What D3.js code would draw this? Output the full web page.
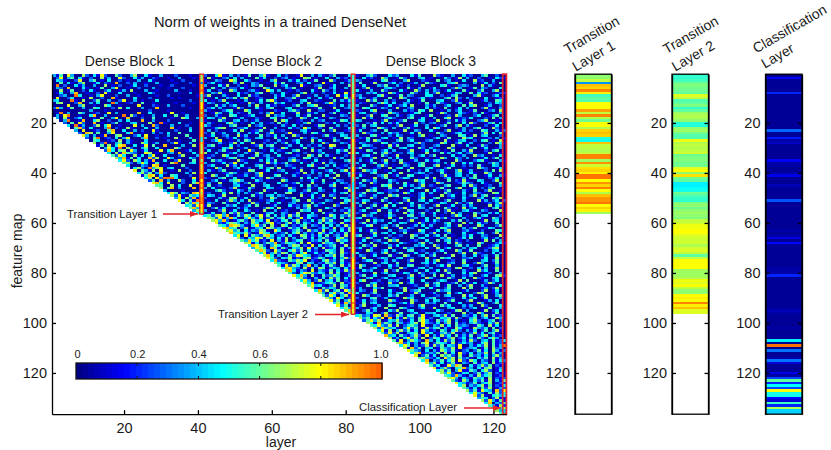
<!DOCTYPE html>
<html><head><meta charset="utf-8">
<script src="https://cdn.jsdelivr.net/npm/d3@7/dist/d3.min.js"></script>
<style>html,body{margin:0;background:#fff}svg{display:block}text{font-family:"Liberation Sans",Arial,sans-serif;fill:#1a1a1a}</style>
</head><body><svg id="c" width="831" height="450"></svg>
<script>
// Colour levels (0-9) per feature map; each row is right-aligned to the last layer of its block.
// These digits are hand-typed approximations of each region's density and brightness, NOT exact per-cell readings.
const block1Rows = [
"3150730062 0417200520 0360041003 0002000100","0270350410 2006130072 0041300210 0100300010","0431002700 3501040020 1003004100 0010020000","0050410360 0140210800 2030010030 0001000200",
"0902004130 0300601020 0140020001 0020000010","0320800041 0015003700 1002000300 0100020000","0060150020 4100240013 0600030010 0003000100","0140038001 0020710040 0010004200 0000100300",
"0023009400 1037000200 3001000010 0200000001","0700240010 6002008100 0040002000 0010100000","3400091060 0250030027 0030100040 0000000200","0560002800 3040009300 1200500100 0001000010",
"0000700360 0100640010 0007000210 0300020000","2830150030 0540002060 4000300080 0000000100","0000000000 3000100000 0000002000 0100000000","0190300530 0120070300 0008004000 0070010000",
"0307900100 4800300009 0620100300 4005003000","306102400 0105003700 8000200500 0010064003","03900180 0460020030 4000800300 0200000000","2050720 0801002500 0340006009 1000400100",
"409130 0260470010 0070300820 0030002000","05820 4000390200 6100040030 0080100300","3070 0120058004 0030200710 0002000400","208 6050037000 4800100302 0400500000",
"73 0301800560 0024070010 0300005000","2 0590120403 7000380020 1006000300","0540012060 3100040000 0200100050","602900350 3100640130 0027100300",
"15060478 0040170500 8000030060","0374190 6200350040 0006300100","284056 0730140007 0480001300","40618 5320076010 0230800040",
"5274 0061403700 4000260003","638 1504008260 0730100420","47 2064031800 4002700050","5 6203740150 0069000340",
"4000320780 1000050000","046209367 0340002000","70531607 0010600200","4625038 2000003060",
"158704 0054000200","46072 9994000070","2508 0300620040","784 0700020058",
"55 0060400700","6 0580300080","3000010000","475032087","62710534","3706281","740519","06385","4527","583","36","4"];
const block2Rows = [
"2004710302 0150036100 4020017003 0310250004","0610023040 3000514002 0230100650 1004003120","1003200750 0420010036 0003140201 5000620013","0240100031 6003200104 1500023040 0071000302",
"3000416002 0103250006 0240007100 2300140005","0051030220 4100006301 0032501000 1600240030","1400200630 0023100740 3001020004 1052030100","0032610004 1200350020 0410003602 0020140071",
"2600031004 0051200003 1400260010 3002007140","0104003250 3600120004 0022510030 0401300062","4010260001 0300140572 0012003400 2100050314","0320004100 1062030005 2400103060 0013720002",
"1005130240 0030600412 0100250034 6000120403","0240300016 2000410350 0034002100 1500060023","3100024500 0640010002 1003520060 0220014000","0016300402 1050020370 0400160021 3000250104",
"2003100540 0124000603 2300040150 0061000320","0430260001 3000210045 0102006300 4100320002","1000520034 0201300006 0640012003 0230001540","0310004620 1004030120 5020010360 0002140003",
"4200100350 0060230001 0310402000 1560003020","0013560002 2400016003 0004120730 0200510004","0302000140 6001250030 1200003410 0050260012","2050130004 0031400260 0027100305 4100002300",
"0140023006 1300050214 0300620001 0025100430","3006002140 0210340005 1040006203 2000130054","0024700103 0530001200 3100240006 0410052001","1000310260 4006002013 0250140003 0062000320",
"0350100402 0001260350 0013004020 1300760004","2010043600 1300040021 0640001503 0020310104","0400251003 0072001040 2100350006 1300004250","6003001240 0310620004 0035010200 0240003016",
"0120064002 3001502300 4000120063 0503100020","1300002450 0046010320 0102300540 2000061300","0052310006 2100030415 0003620100 4010200035","3000140270 0300100624 1250004003 0160320002",
"0240006130 4000351002 0032100046 1003040120","1006300024 0120040350 6001302000 0450002103","0310250001 0065001400 2300016003 1002400360","4000012530 0210370001 0040120603 0300250014",
"0063004201 1300260004 5000310120 0204006003","2100350040 0004120630 0210005040 3100260001","0024010356 3000420100 0630002014 1050003200","1300600042 0250103000 4001250006 0030140320",
"0501200034 1006003400 0230104050 2000360012","3040010260 0152000430 1006200031 0400120063","0003520104 2030006100 0014300250 0320040016","1200040603 0310250004 0056003102 4000120350",
"0430160002 0005120340 3200006014 0160320002","2000310560 1400020063 0032500104 0200060431","0104002630 3060010240 0100350062 1003200045","0320051004 0016200301 4002300105 0240001630",
"1600003240 0240500013 0004120360 3100062000","0025140003 1300002640 6001030250 0004210032","3000260140 0420106003 0120005340 1600030214","0140030526 2005001340 0320160004 0051200063",
"4526738015 2640371504 0316250143 2001640325","652713840 0473160251 3504027140 1063240502","67382014 5206341702 1450360214 0362510043","7214653 0316402571 2036150420 1504320610",
"542876 3104725061 0640213503 2150403162","78450 2601340752 3105240610 0243160315","6735 0413265107 4001352062 3160240415","854 3620175403 1250460312 0631402150",
"47 0715326840 2304106513 1405023160","6 2043761530 4160302514 0352104620","5384612070 3160245013 2405106340","671402538 0254316071 1063420510",
"48752036 4103650217 0412350160","3764085 1520436071 3061240513","586207 3104625041 2015430610","47136 2650314701 4120530621",
"6840 3015276430 1204360510","752 0436120561 2530140362","48 2105364702 1046230510","6 4320156043 0215360412",
"5172640380 3041520613","487320615 1650243041","68413207 0321504162","5204763 2430615012",
"748306 1052364013","56210 3140625041","4730 2603415021","648 0124530612",
"57 3410260531","6 1052430621","4826035174","630472518","52740361","6317402","725036","46183","7250","463","58","6"];
const block3Rows = [
"1003520004 2300041500 0621003004 1200350020","0041200630 0152000340 1000420160 3002001042","3200010450 1003600021 0050230104 0061200300","0500160002 4020013005 2100034600 0030140205",
"1040003250 0310200160 0004510023 2000603100","0026100034 2000510300 1400002630 0150320004","4100300520 0041006203 0320140005 1002500360","0003240106 3100052004 0260001430 0504120012",
"2300004610 0150320004 4002013500 0036100240","0420130005 0063001240 1000350620 3100040012","1006250030 2000410150 0034002610 0200130054","0210003640 4003200105 0052100230 1600002043",
"3000520014 0124060003 1300240005 0460013002","0054001320 1600230004 0210500140 3000261003","2100460003 0003120540 6001030240 0150002306","0340020106 3200014500 0016300042 1020510003",
"1002600450 0310240001 5000120630 0024001350","0061300024 2000350140 0300460012 1400020503","4300010260 0125000340 1060020413 0002360010","0002150403 1400006020 2300150004 0620013504",
"2050340001 0260014003 0012500360 3100020140","0130006420 3002510004 0640010203 0035100620","1400230050 0016003200 4100260013 0200540031","0062100304 2300140600 0052001340 1000260405",
"3000451002 0420010360 1003200054 0160340002","0215000340 1060320001 0240150006 3400012030","1004063100 0350240002 3000610134 0020450106","0320010540 2100003620 0016400250 1300002064",
"0043200106 1500340020 0230006010 4001520003","2600120004 0034010520 3100062000 0250140013","0105300240 3000260014 0420105003 1600020350","4010050362 0120340006 0005130240 2300016001",
"0034100520 1600030240 2500004013 0062300104","1200260003 0410052001 0016300420 3000140250","0301400260 2050013004 1340000620 0024510003","3000250140 0062100350 0120306004 1400002530",
"0140003620 1003200450 0360014002 0205100430","2500012006 0340160003 4100250001 0006320014","0063240010 3000510204 0024100360 1300020506","1200350004 0160002430 2005100340 0410063001",
"0410002360 1300540012 0002610340 2050014003","3000160250 0024300105 1600240003 0350002140","0052130004 2100006340 0310050216 1004300260","1400620003 0305100240 0063000125 3200410005",
"0230010546 0004130260 2100350004 0620012003","3100240005 1060003420 0025100360 0140203500","0006350012 2300140006 0410250003 1050026001","1250004302 0016300240 3000520104 0032100650",
"0420130006 3500010240 1006024003 0260350010","2000620150 0104300260 0350012004 1002400536","0143000520 1002600340 4100250003 0006130240","3060021004 0250140003 0014300620 2500012036",
"0300250160 4000130520 0260014003 1300006042","1005200340 0026100430 3000520106 0240010350","0240016003 1300540002 0050261003 4100320006","2100340005 0006130250 1400206030 0052003140",
"0062300014 2000450130 0301002640 1060340002","3400120006 0150023004 0062510003 0024100530","1006042300 3100260014 0420003150 2000160340","0250130004 0043001620 1200350006 0304120050",
"0014600230 2500013040 3000240160 1006300025","2300010460 0160320004 1005420003 0250014300","0401520003 0023100640 0140360002 3100200054","1000260340 4005001230 2600130004 0013500260",
"3500140002 0120063004 0240501003 1400320006","0026300150 2100050340 1003260014 0500240130","0140023006 3600012004 0050340210 2000160503","1300500240 0042100360 3000150620 0106300024",
"0052160003 1400003240 0620100350 3005001240","2400310006 0015230004 1060240003 0340012560","0106300240 3000450120 0024100630 1500020340","4000120360 0250014003 1300500026 0062100403",
"0320140005 1006300240 2500016003 0040230150","1060002430 0340120006 0105340002 2300140060","0024500130 3100260004 0360012005 1000340250","2000160340 0500210034 1400023006 0026300150",
"0630012004 1300450002 0024160003 4100250030","1500240003 0062001340 3000120560 0204030160","0042300160 2500013004 0140620003 1006240050","3100060240 0014300520 2300150004 0460012003",
"0250140003 4000260130 0506013002 1300240056","1003500240 0120340006 3100052004 0062100340","0460012003 2300150040 0024300160 5000130240","2000340106 1060240003 0350012504 0140026300",
"0105260003 3400012006 0240150030 2600310004","1300042500 0026100340 4100250006 0500130260","0320160004 1006023500 0052340001 3000260140","4100250003 0340016200 1300060240 0026500130",
"0063012004 2500130040 0120340006 1400260035","2000450130 0106340002 3500012004 0240160003","0140230006 3100062004 0430125000 2600013040","1050340002 0024160003 2300500140 0016300250",
"0260013005 4000120360 0105240003 1300620004","3100240060 0053100240 1600034002 0240015003","0025130004 2600340010 0042001560 3000160240","1004300260 0150024003 3400120006 0206300150",
"4523176082 1630450271 0342615003 2140360512","635142708 0416230571 2004351620 1350240163","25736014 3620140573 1052460301 0462013502","6418253 0531246073 2140360512 0352104260",
"547326 1602453071 0326140523 2015306140","62853 4103725016 2450310641 1063240502","4716 0362514073 1205304620 3140250361","527 2610345072 4013526102 0261403510",
"83 4052136207 0316240513 1502460312","6 1304725160 2540136024 0315204630","5170364208 3041625013 1620340512","682413057 0254316024 2301460512",
"47503126 1625043170 0314260513","6182503 4015326071 2340150623","753204 0316425102 3025140631","46812 3250614072 1403260513",
"7025 1406352061 0523140362","563 2140736052 3104250613","48 0325146072 1640320514","7 3614025103 2051340612",
"5240173860 0413625021","713620458 2304156013","46250371 1530462014","6372014 4025136021",
"542831 0316245012","67304 2153406021","5216 3042516031","743 1250346012",
"46 0324615021","5 3140526013","6251743082","473205162","72610453","3540261","627315","48032","5316","724","63","5"];
const levelValues = [0.02,0.13,0.26,0.38,0.47,0.57,0.68,0.78,0.87,0.97];
const transition1 = [.65,.66,.72,.35,.88,.86,.95,.82,.55,.6,.58,.8,.8,.8,.92,.72,.95,.7,.62,.8,.8,.7,.85,.87,.85,.52,.5,.88,.72,.72,.7,.72,.95,.96,.68,.93,.74,.84,.86,.82,.98,.98,.8,.93,.86,.95,.8,.7,.88,.93,.94,.97,.8,.86,.82,.68];
const transition2 = [.53,.53,.56,.62,.63,.62,.62,.6,.76,.72,.57,.6,.64,.53,.6,.68,.7,.7,.66,.52,.52,.66,.68,.62,.57,.57,.78,.7,.72,.7,.72,.74,.62,.64,.64,.62,.62,.76,.8,.66,.84,.62,.6,.47,.47,.48,.5,.62,.58,.54,.54,.64,.66,.62,.66,.68,.66,.64,.72,.74,.78,.78,.8,.8,.76,.74,.74,.74,.7,.74,.76,.72,.6,.72,.8,.8,.8,.8,.68,.68,.68,.7,.78,.76,.8,.72,.66,.66,.8,.82,.8,.96,.82,.88,.76,.76];
const classification = [.03,.15,.02,.02,.02,.02,.02,.2,.02,.02,.02,.02,.02,.02,.02,.02,.02,.02,.02,.02,.02,.03,.28,.02,.02,.18,.04,.08,.03,.02,.02,.02,.02,.03,.14,.05,.04,.02,.02,.04,.12,.03,.02,.02,.06,.02,.02,.02,.02,.02,.27,.02,.02,.02,.02,.02,.02,.02,.02,.02,.02,.02,.04,.03,.04,.12,.03,.16,.02,.02,.02,.02,.02,.02,.02,.03,.03,.04,.05,.04,.2,.02,.02,.02,.02,.02,.02,.02,.02,.02,.02,.02,.02,.03,.06,.04,.02,.02,.02,.02,.02,.05,.02,.02,.02,.02,.47,.02,.98,.03,.3,.03,.03,.04,.3,.1,.02,.02,.02,.12,.04,.25,.6,.2,.48,.25,.8,.5,.5,.16,.1,.55,.2,.7,.42,.42];
const xTicks = [20,40,60,80,100,120];
const yTicks = [20,40,60,80,100,120];
const barTicks = [0,.2,.4,.6,.8,1];
const barSteps = 51;
const blockNames = ["Dense Block 1","Dense Block 2","Dense Block 3"];
const stripCols = {41:transition1,82:transition2,123:classification};

const svg = d3.select("#c");
const x = d3.scaleLinear().domain([.5,123.5]).range([52,506.4]);
const y = d3.scaleLinear().domain([.5,136.5]).range([74.2,414.2]);
const jet = v => { const t=v*.785, c=a=>Math.round(255*Math.max(0,Math.min(1,a)));
  return `rgb(${c(Math.min(4*t-1.5,-4*t+4.5))},${c(Math.min(4*t-.5,-4*t+3.5))},${c(Math.min(4*t+.5,-4*t+2.5))})`; };
const colour = d3.scaleQuantize().domain([0,1]).range(d3.range(barSteps).map(i=>jet((i+.5)/barSteps)));

// heatmap cells
const cells = [];
[[block1Rows,40,16],[block2Rows,81,56],[block3Rows,122,96]].forEach(([rows,lastCol,full])=>{
  rows.forEach((s,ri)=>{
    const r=ri+1, n=r<=full?40:40-(r-full)+1, d=s.replace(/\s/g,"").slice(-n);
    for(let i=0;i<d.length;i++) cells.push({col:lastCol-d.length+1+i,row:r,v:levelValues[+d[i]]});
  });
});
Object.entries(stripCols).forEach(([c,vals])=>vals.forEach((v,i)=>cells.push({col:+c,row:i+1,v})));
svg.append("g").attr("shape-rendering","crispEdges").selectAll("rect").data(cells).join("rect")
  .attr("x",d=>x(d.col-.5)).attr("width",x(1.5)-x(.5)).attr("y",d=>y(d.row-.5)).attr("height",y(1.5)-y(.5))
  .attr("fill",d=>colour(d.v));

// red highlight boxes
const red="#e3262a";
[[41,56],[82,96],[123,136]].forEach(([c,n])=>svg.append("rect")
  .attr("x",x(c-.5)).attr("y",y(.5)).attr("width",x(1.5)-x(.5)).attr("height",y(n+.5)-y(.5))
  .attr("fill","none").attr("stroke",red).attr("stroke-width",c===123?1.8:1.4));

// axes
const styleAxis = (g,size=14.5)=>{ g.selectAll("text").attr("font-size",size).style("fill","#1a1a1a");
  g.selectAll("path,line").attr("stroke","#000").attr("stroke-width",1.3); g.attr("font-family",null); };
svg.append("g").attr("transform",`translate(52,0)`).call(d3.axisLeft(y).tickValues(yTicks).tickSize(-4).tickSizeOuter(0).tickPadding(5)).call(styleAxis);
svg.append("g").attr("transform",`translate(0,414.2)`).call(d3.axisBottom(x).tickValues(xTicks).tickSize(-4).tickSizeOuter(0).tickPadding(9)).call(styleAxis);

// text
const label=(t,px,py,size,anchor="middle",rot=0)=>svg.append("text").text(t)
  .attr("transform",`translate(${px},${py}) rotate(${rot})`).attr("text-anchor",anchor).attr("font-size",size);
label("Norm of weights in a trained DenseNet",280,27,14.7);
blockNames.forEach((b,i)=>label(b,[130,277,431][i],66,14));
label("layer",281,447,14);
label("feature map",22,251,14,"middle",-90);

// annotations
svg.append("defs").append("marker").attr("id","ah").attr("viewBox","0 0 8 6").attr("refX",8).attr("refY",3)
  .attr("markerWidth",8).attr("markerHeight",6).attr("markerUnits","userSpaceOnUse").attr("orient","auto")
  .append("path").attr("d","M0,0L8,3L0,6Z").attr("fill",red);
[["Transition Layer 1",157,214,163,198,214],["Transition Layer 2",308,314.5,315,349,314.5],["Classification Layer",457,407,464,501,408]]
.forEach(([t,tx,ty,a,b,ay])=>{
  label(t,tx,ty+3.5,11.3,"end");
  svg.append("line").attr("x1",a).attr("x2",b).attr("y1",ay).attr("y2",ay).attr("stroke",red).attr("stroke-width",1.3).attr("marker-end","url(#ah)");
});

// colour bar
const bx=d3.scaleLinear().domain([0,1]).range([76,382]);
svg.append("g").attr("shape-rendering","crispEdges").selectAll("rect").data(d3.range(barSteps)).join("rect")
  .attr("x",i=>bx(i/barSteps)).attr("width",bx(1/barSteps)-bx(0)+.5).attr("y",363).attr("height",16).attr("fill",i=>jet((i+.5)/barSteps));
svg.append("rect").attr("x",76).attr("y",363).attr("width",306).attr("height",16).attr("fill","none").attr("stroke","#111").attr("stroke-width",1.3);
barTicks.forEach(t=>{
  if(t>0&&t<1){ [[363,366],[376,379]].forEach(([a,b])=>svg.append("line").attr("x1",bx(t)).attr("x2",bx(t)).attr("y1",a).attr("y2",b).attr("stroke","#111")); }
  label(t===0?"0":t.toFixed(1),t===0?77.5:bx(t)-(t===1?1:-.5),358,11);
});

// side strips
const stripData=[
 {vals:transition1,x0:575,lines:[["Transition",594,39],["Layer 1",596,60]]},
 {vals:transition2,x0:672,lines:[["Transition",693,39],["Layer 2",695.5,60]]},
 {vals:classification,x0:765.5,lines:[["Classification",792,33],["Layer",780,60]]}];
const stripW=36.5;
stripData.forEach(s=>{
  const g=svg.append("g");
  g.append("g").attr("shape-rendering","crispEdges").selectAll("rect").data(s.vals).join("rect")
    .attr("x",s.x0).attr("width",stripW).attr("y",(d,i)=>y(i+.5)).attr("height",y(1.5)-y(.5)).attr("fill",d=>colour(d));
  g.append("g").attr("transform",`translate(${s.x0},0)`).call(d3.axisLeft(y).tickValues(yTicks).tickSize(-4).tickSizeOuter(0).tickPadding(5)).call(styleAxis);
  g.append("g").attr("transform",`translate(${s.x0+stripW},0)`).call(d3.axisRight(y).tickValues(yTicks).tickSize(-4).tickSizeOuter(0).tickFormat("")).call(styleAxis);
  g.append("rect").attr("x",s.x0).attr("y",y(.5)).attr("width",stripW).attr("height",y(136.5)-y(.5)).attr("fill","none").attr("stroke","#000").attr("stroke-width",1.3);
  s.lines.forEach(([t,cx,cy])=>label(t,cx,cy,14,"middle",-30));
});
</script></body></html>
